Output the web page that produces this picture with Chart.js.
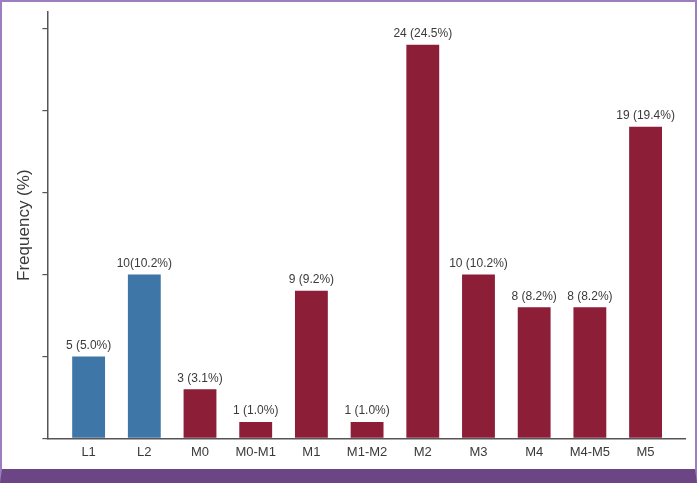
<!DOCTYPE html>
<html>
<head>
<meta charset="utf-8">
<script src="https://cdn.jsdelivr.net/npm/chart.js@4"></script>
<style>
  html, body { margin: 0; padding: 0; background: #fff; }
  #cadre {
    width: 693px; height: 467px;
    border-left: 2px solid #9b7dc0; border-right: 2px solid #9b7dc0; border-top: 2px solid #9b7dc0;
    border-bottom: 14px solid #6c4684;
  }
</style>
</head>
<body>
<div id="cadre"><canvas id="myChart" width="693" height="467"></canvas></div>
<script>
// Catégories de l'axe x
let categories = ["L1", "L2", "M0", "M0-M1", "M1", "M1-M2", "M2", "M3", "M4", "M4-M5", "M5"];
// Effectifs
let effectifs = [5, 10, 3, 1, 9, 1, 24, 10, 8, 8, 19];
// Etiquettes au-dessus des barres
let etiquettes = ["5 (5.0%)", "10(10.2%)", "3 (3.1%)", "1 (1.0%)", "9 (9.2%)", "1 (1.0%)", "24 (24.5%)", "10 (10.2%)", "8 (8.2%)", "8 (8.2%)", "19 (19.4%)"];
// Graduations de l'axe y (sans texte)
let graduations = [0, 5, 10, 15, 20, 25];

let bleu = "#3e76a7";
let rouge = "#8d1e37";

let couleur = [];
for (let i = 0; i < categories.length; i++) {
    couleur.push(categories[i].charAt(0) === "L" ? bleu : rouge);
}

// Plugin pour écrire les étiquettes au-dessus des barres
const etiquettesPlugin = {
    id: 'etiquettes',
    afterDatasetsDraw(chart) {
        const ctx = chart.ctx;
        const meta = chart.getDatasetMeta(0);
        ctx.save();
        ctx.font = "12px 'Liberation Sans', Arial, sans-serif";
        ctx.fillStyle = "#3a3a3a";
        ctx.textAlign = "center";
        ctx.textBaseline = "middle";
        meta.data.forEach(function (bar, i) {
            ctx.fillText(etiquettes[i], bar.x, bar.y - 11);
        });
        ctx.restore();
    }
};

new Chart(document.getElementById('myChart').getContext('2d'), {
    type: 'bar',
    data: {
        datasets: [{
            data: effectifs.map(function (v, i) { return {x: i, y: v}; }),
            backgroundColor: couleur,
            borderWidth: 0,
            barPercentage: 0.59,
            categoryPercentage: 1
        }]
    },
    options: {
        responsive: false,
        animation: false,
        layout: {padding: {left: 8, top: 10, right: 10, bottom: 3}},
        plugins: {legend: {display: false}, tooltip: {enabled: false}},
        scales: {
            x: {
                type: 'linear',
                offset: false,
                min: -0.74,
                max: 10.708,
                afterBuildTicks: function (scale) {
                    scale.ticks = categories.map(function (c, i) { return {value: i}; });
                },
                ticks: {
                    autoSkip: false,
                    maxRotation: 0,
                    padding: 6,
                    color: "#3a3a3a",
                    font: {family: "'Liberation Sans', Arial, sans-serif", size: 13},
                    callback: function (value) { return categories[value]; }
                },
                grid: {display: false, drawTicks: false},
                border: {display: true, color: "#555", width: 1.5}
            },
            y: {
                min: 0,
                max: 26,
                afterBuildTicks: function (scale) {
                    scale.ticks = graduations.map(function (v) { return {value: v}; });
                },
                ticks: {display: false},
                grid: {display: true, drawOnChartArea: false, drawTicks: true, tickLength: 5, color: "#555", lineWidth: 1.2},
                border: {display: true, color: "#555", width: 1.5},
                title: {
                    display: true,
                    text: "Frequency (%)",
                    color: "#3a3a3a",
                    padding: {top: 4, bottom: 8},
                    font: {family: "'Liberation Sans', Arial, sans-serif", size: 17, weight: 'normal'}
                }
            }
        }
    },
    plugins: [etiquettesPlugin]
});
</script>
</body>
</html>
